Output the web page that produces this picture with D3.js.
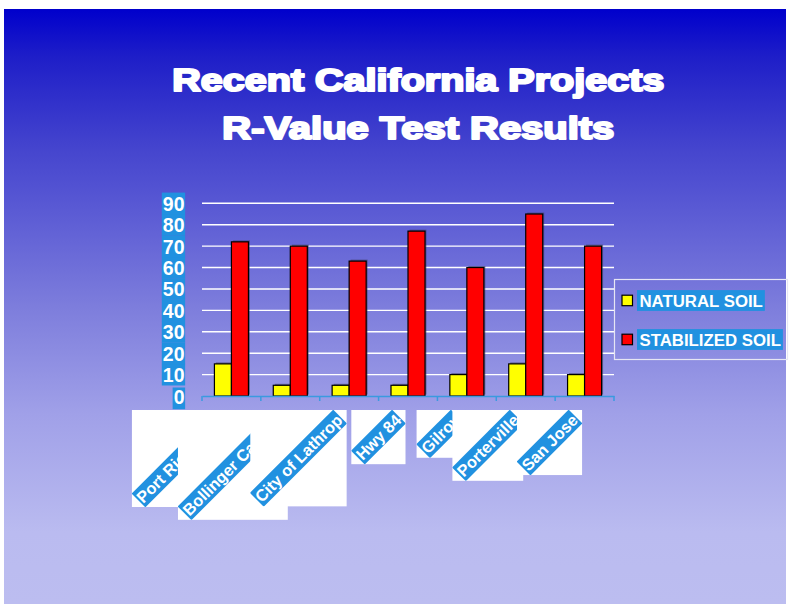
<!DOCTYPE html>
<html>
<head>
<meta charset="utf-8">
<script src="https://cdn.jsdelivr.net/npm/d3@7"></script>
<style>
  html, body { margin: 0; padding: 0; background: #ffffff; }
  svg { display: block; }
  text { font-family: "Liberation Sans", Arial, sans-serif; }
</style>
</head>
<body>
<svg id="chart" width="789" height="604"></svg>
<script>
const titleLines = ["Recent California Projects", "R-Value Test Results"];
const categories = ["Port Richmond", "Bollinger Canyon", "City of Lathrop", "Hwy 84", "Gilroy", "Porterville", "San Jose"];
const seriesNames = ["NATURAL SOIL", "STABILIZED SOIL"];
const naturalSoil = [15, 5, 5, 5, 10, 15, 10];
const stabilizedSoil = [72, 70, 63, 77, 60, 85, 70];
const yTicks = [0, 10, 20, 30, 40, 50, 60, 70, 80, 90];
const seriesColors = ["#FFFF00", "#FF0000"];

const svg = d3.select("#chart");
const W = 789, H = 604;
const labelBlue = "#2191E0";

// background gradient
const defs = svg.append("defs");
const grad = defs.append("linearGradient").attr("id", "bg")
  .attr("x1", 0).attr("y1", 0).attr("x2", 0).attr("y2", 1);
[[0, "#0000CC"], [0.08, "#1E1EC8"], [0.24, "#4646CE"], [0.30, "#5252D2"],
 [0.50, "#7D7DDC"], [0.68, "#A0A0E8"], [0.88, "#BABBF0"], [1, "#BCBDF0"]]
  .forEach(([o, c]) => grad.append("stop").attr("offset", o).attr("stop-color", c));
svg.append("rect").attr("x", 4).attr("y", 9).attr("width", 782).attr("height", H - 9)
  .attr("fill", "url(#bg)");

// title
const titleG = svg.append("g");
const titleLens = [492, 392];
const titleBase = [91, 138.5];
titleLines.forEach((t, i) => {
  titleG.append("text")
    .attr("x", 418.3).attr("y", titleBase[i])
    .attr("text-anchor", "middle")
    .attr("font-size", 32).attr("font-weight", "bold")
    .attr("fill", "#ffffff").attr("stroke", "#ffffff").attr("stroke-width", 2.2)
    .attr("stroke-linejoin", "round")
    .attr("textLength", titleLens[i]).attr("lengthAdjust", "spacingAndGlyphs")
    .text(t);
});

// scales
const plotL = 202, plotR = 614, plotB = 396, plotT = 203.3;
const x = d3.scaleBand().domain(categories).range([plotL, plotR]).padding(0);
const y = d3.scaleLinear().domain([0, 90]).range([plotB, plotT]);
const bw = x.bandwidth();
const groupW = bw * 0.578;
const inner = d3.scaleBand().domain([0, 1]).range([(bw - groupW) / 2, (bw + groupW) / 2]).padding(0);

// gridlines
svg.append("g").selectAll("line").data(yTicks.filter(d => d > 0)).join("line")
  .attr("x1", plotL).attr("x2", plotR)
  .attr("y1", d => y(d)).attr("y2", d => y(d))
  .attr("stroke", "#ffffff").attr("stroke-width", 1.4);

// y axis labels with highlight
const yAxis = d3.axisLeft(y).tickValues(yTicks).tickSize(0).tickPadding(0);
const yG = svg.append("g").attr("transform", "translate(185,0)").call(yAxis);
yG.select(".domain").remove();
yG.selectAll(".tick text")
  .attr("font-family", "Liberation Sans, Arial, sans-serif")
  .attr("font-size", 19.5).attr("font-weight", "bold").attr("fill", "#ffffff")
  .attr("dy", "0.36em").attr("x", -0.5);
yG.selectAll(".tick").each(function(d) {
  const t = d3.select(this).select("text");
  const bb = t.node().getBBox();
  d3.select(this).insert("rect", "text")
    .attr("x", bb.x - 1).attr("y", d === 0 ? -9 : -11.2)
    .attr("width", bb.width + 1.5).attr("height", d === 0 ? 21.7 : 21.6)
    .attr("fill", labelBlue);
});

// bars
const data = categories.map((c, i) => ({ c, v: [naturalSoil[i], stabilizedSoil[i]] }));
const barG = svg.append("g");
data.forEach(d => {
  d.v.forEach((v, s) => {
    const bx = x(d.c) + inner(s);
    barG.append("rect")
      .attr("x", bx + 1.5).attr("y", y(v) - 1.5)
      .attr("width", inner.bandwidth()).attr("height", plotB - y(v))
      .attr("fill", "#3a3a5a").attr("opacity", 0.55);
  });
  d.v.forEach((v, s) => {
    const bx = x(d.c) + inner(s);
    barG.append("rect")
      .attr("x", bx).attr("y", y(v))
      .attr("width", inner.bandwidth()).attr("height", plotB - y(v))
      .attr("fill", seriesColors[s]).attr("stroke", "#000000").attr("stroke-width", 1.2);
  });
});

// x axis line and ticks
const axisColor = "#3A9AE0";
const xAxisG = svg.append("g").attr("transform", `translate(0,${plotB})`);
xAxisG.call(d3.axisBottom(x).tickSize(0).tickFormat(""));
xAxisG.select(".domain").attr("stroke", axisColor).attr("stroke-width", 1.5);
const bounds = categories.map(c => x(c)).concat([plotR]);
xAxisG.selectAll("line.bnd").data(bounds).join("line").attr("class", "bnd")
  .attr("x1", d => d).attr("x2", d => d).attr("y1", 0).attr("y2", 5)
  .attr("stroke", axisColor).attr("stroke-width", 1.5);

// category labels (rotated, on white boxes)
const labelG = svg.append("g");
const boxTop = 410, lblH = 20.5;
categories.forEach((c, i) => {
  const g = labelG.append("g");
  const tmp = g.append("text").attr("font-size", 16.3).attr("font-weight", "bold").text(c);
  const L = tmp.node().getComputedTextLength();
  tmp.remove();
  const s = (L + lblH) * Math.SQRT1_2;
  const right = x(c) + bw / 2 - 2.5;
  const left = right - s;
  const clipId = "clip" + i;
  defs.append("clipPath").attr("id", clipId).append("rect")
    .attr("x", left).attr("y", boxTop).attr("width", s).attr("height", s);
  g.append("rect").attr("x", left).attr("y", boxTop).attr("width", s).attr("height", s)
    .attr("fill", "#ffffff");
  const tg = g.append("g").attr("clip-path", `url(#${clipId})`)
    .append("g").attr("transform", `translate(${left + s / 2},${boxTop + s / 2}) rotate(-45)`);
  tg.append("rect").attr("x", -L / 2 - 1).attr("y", -lblH / 2 + 0.5).attr("width", L + 2).attr("height", lblH - 1)
    .attr("fill", labelBlue);
  tg.append("text").attr("text-anchor", "middle").attr("dy", "0.36em")
    .attr("font-size", 16.3).attr("font-weight", "bold").attr("fill", "#ffffff").text(c);
});

// legend
const legG = svg.append("g");
legG.append("rect").attr("x", 614.5).attr("y", 279.5).attr("width", 173).attr("height", 80)
  .attr("fill", "none").attr("stroke", "#E6E6F4").attr("stroke-width", 1.2);
const legY = [300.5, 339.5];
seriesNames.forEach((n, i) => {
  legG.append("rect").attr("x", 622).attr("y", legY[i] - 5.3).attr("width", 10.5).attr("height", 10.5)
    .attr("fill", seriesColors[i]).attr("stroke", "#000").attr("stroke-width", 1.2);
  const t = legG.append("text").attr("x", 639.5).attr("y", legY[i]).attr("dy", "0.36em")
    .attr("font-size", 16.8).attr("font-weight", "bold").attr("fill", "#ffffff").text(n);
  const bb = t.node().getBBox();
  legG.insert("rect", "text").attr("x", 637).attr("y", legY[i] - 10.4)
    .attr("width", bb.width + 4.5).attr("height", 20.8).attr("fill", labelBlue);
});
legG.selectAll("text").raise();
</script>
</body>
</html>
